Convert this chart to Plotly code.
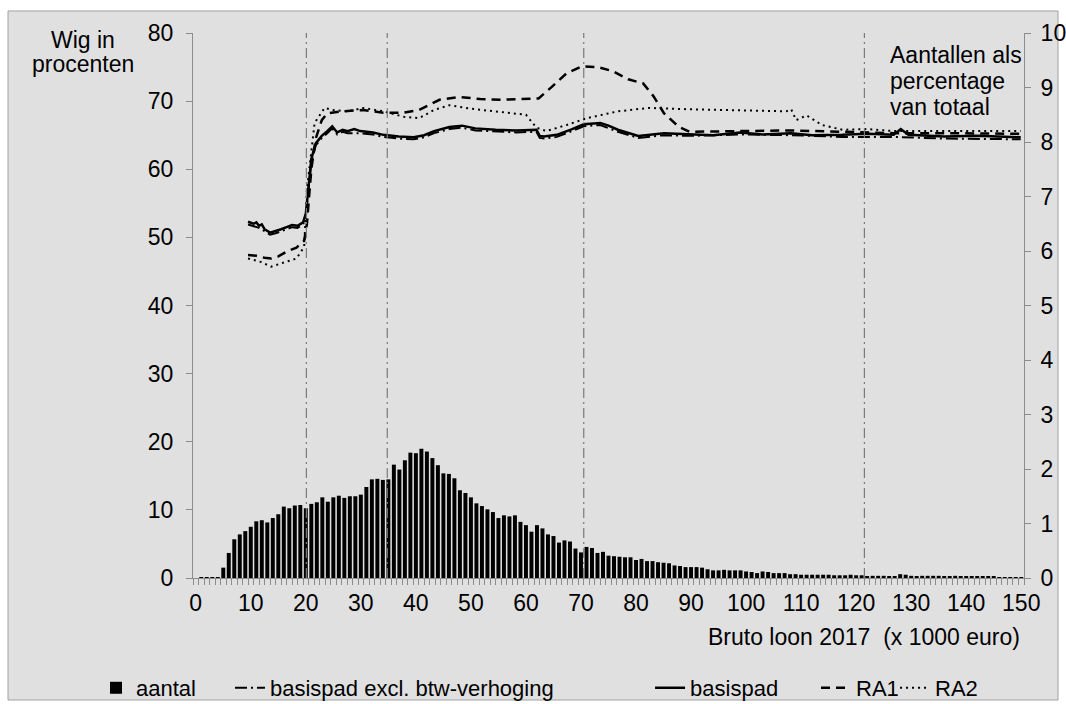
import plotly.graph_objects as go

# ---------------- data ----------------
categories = list(range(0, 151))
aantal = [
    0, 0.01, 0.01, 0.01, 0.01, 0.19, 0.46, 0.71, 0.80, 0.86,
    0.94, 1.04, 1.06, 1.02, 1.10, 1.17, 1.31, 1.28, 1.33, 1.34,
    1.28, 1.36, 1.39, 1.48, 1.40, 1.48, 1.51, 1.47, 1.50, 1.50,
    1.53, 1.67, 1.81, 1.82, 1.80, 1.81, 2.08, 1.99, 2.16, 2.30,
    2.29, 2.37, 2.32, 2.20, 2.07, 1.92, 1.91, 1.83, 1.61, 1.56,
    1.48, 1.37, 1.32, 1.26, 1.21, 1.10, 1.15, 1.13, 1.15, 1.03,
    0.97, 0.85, 0.97, 0.91, 0.80, 0.77, 0.65, 0.69, 0.67, 0.54,
    0.47, 0.57, 0.55, 0.46, 0.48, 0.41, 0.40, 0.39, 0.38, 0.38,
    0.33, 0.35, 0.31, 0.31, 0.29, 0.28, 0.27, 0.23, 0.22, 0.20,
    0.20, 0.20, 0.19, 0.16, 0.14, 0.14, 0.15, 0.14, 0.14, 0.14,
    0.12, 0.11, 0.09, 0.12, 0.11, 0.09, 0.09, 0.09, 0.07, 0.07,
    0.06, 0.06, 0.06, 0.06, 0.06, 0.06, 0.05, 0.05, 0.05, 0.06,
    0.05, 0.05, 0.03, 0.04, 0.04, 0.04, 0.03, 0.03, 0.07, 0.06,
    0.04, 0.03, 0.04, 0.04, 0.04, 0.04, 0.03, 0.03, 0.04, 0.02,
    0.03, 0.03, 0.03, 0.03, 0.03, 0.03, 0.01, 0.01, 0.01, 0.01,
    0.01,
]

basispad_x = [9.5, 10.5, 11, 11.5, 12, 12.5, 13.5, 14.5, 15.5, 16.5, 17.5, 18.5, 19.5, 20, 20.3,
              21, 21.8, 22.9, 23.9, 24.8, 25.7, 26.7, 27.6, 28.8, 29.9, 31, 32.2, 34.1, 36.9,
              39.6, 41.5, 43.3, 46.1, 48.4, 50.8, 54.5, 58.2, 61.9, 62.5, 63.3, 65.6, 68.4,
              70.5, 73.5, 75, 76.7, 80.4, 85.1, 89.7, 94, 98.9, 103, 108.2, 112, 117.5, 122,
              126.8, 128.1, 129.5, 136, 142, 149.9]
basispad_y = [52.3, 52.0, 52.2, 51.7, 51.9, 51.2, 50.7, 50.9, 51.2, 51.5, 51.8, 51.7, 52.2, 53.5, 56,
              61.5, 63.8, 64.9, 65.6, 66.3, 65.4, 65.8, 65.6, 65.9, 65.6, 65.5, 65.4, 65.05, 64.8,
              64.7, 65.0, 65.6, 66.2, 66.4, 66.0, 65.8, 65.7, 65.8, 64.9, 64.8, 65.05, 65.9,
              66.6, 66.8, 66.4, 65.8, 64.9, 65.3, 65.2, 65.0, 65.4, 65.1, 65.3, 65.0, 65.05, 65.2,
              65.05, 65.9, 65.05, 64.8, 64.9, 64.7]

excl_btw_x = [9.5, 10.5, 11.5, 12.5, 13.5, 14.5, 15.5, 16.5, 17.5, 18.5, 19.5, 20, 20.3,
              21, 21.8, 22.9, 23.9, 24.8, 25.7, 26.7, 27.6, 29.9, 32.2, 34.1, 36.9,
              39.6, 41.5, 43.3, 46.1, 48.4, 50.8, 54.5, 58.2, 61.9, 62.5, 63.3, 65.6, 68.4,
              70.5, 73.5, 76.7, 80.4, 85.1, 89.7, 98.9, 108.2, 117.5, 126.8, 136, 149.9]
excl_btw_y = [51.9, 51.7, 51.4, 50.9, 50.4, 50.6, 50.9, 51.2, 51.5, 51.4, 51.9, 53.0, 55.5,
              61.0, 63.5, 64.6, 65.3, 66.0, 65.1, 65.5, 65.3, 65.3, 65.1, 64.75, 64.5,
              64.4, 64.7, 65.3, 65.9, 66.1, 65.7, 65.5, 65.4, 65.5, 64.6, 64.5, 64.75, 65.6,
              66.3, 66.5, 65.5, 64.6, 65.0, 64.9, 65.1, 65.0, 64.75, 64.75, 64.5, 64.4]

ra1_x = [9.5, 11, 12.5, 13.7, 15, 16.5, 18.3, 19.7, 20.2, 21, 21.8, 22.9, 23.9, 26.7, 30.4,
         34.1, 37.8, 40.6, 44.3, 48, 51.7, 55.4, 59.1, 62.3, 64.7, 67.4, 70.2, 73, 75.8,
         78.6, 81.3, 83.2, 85.1, 87.8, 89.7, 98.9, 108.2, 117.5, 126.8, 136, 149.9]
ra1_y = [47.4, 47.3, 47.0, 46.9, 47.2, 47.9, 48.5, 49.5, 52, 60, 64.5, 67.2, 68.2, 68.5, 68.7,
         68.3, 68.3, 68.7, 70.2, 70.6, 70.3, 70.2, 70.3, 70.4, 72.1, 74.1, 75.1, 75.0, 74.4,
         73.2, 72.6, 70.7, 68.2, 66.2, 65.5, 65.6, 65.7, 65.5, 65.3, 65.3, 65.2]

ra2_x = [9.5, 11.8, 13.7, 15.5, 18.3, 19.7, 20.2, 21.6, 23.4, 24.8, 27.6, 30.4, 34.1, 37.8,
         40.6, 43.3, 46.1, 49.8, 54.5, 60, 61.9, 63.7, 67.4, 71.1, 76.7, 82.3, 89.7, 98.9,
         107.3, 108.2, 109.1, 111, 113.8, 117.5, 122.1, 126.8, 149.9]
ra2_y = [46.9, 46.4, 45.7, 46.2, 46.9, 48.6, 57, 66.8, 69.0, 68.7, 68.5, 69.0, 68.5, 67.7,
         67.5, 68.7, 69.4, 68.9, 68.5, 68.0, 66.1, 65.6, 66.5, 67.5, 68.5, 69.0, 68.8, 68.7,
         68.5, 68.8, 67.2, 67.9, 66.5, 65.8, 65.9, 65.6, 65.6]

vlines = [20.1, 34.8, 70.5, 121.5]
x_ticks = list(range(0, 151, 10))
left_ticks = list(range(0, 81, 10))
right_ticks = list(range(0, 11, 1))

# ---------------- figure ----------------
FONT = "Liberation Sans, Arial, sans-serif"
BG = "#e0e0e0"
AX = "#8c8c8c"
FS = 23

fig = go.Figure()

fig.add_trace(go.Bar(x=categories, y=aantal, name="aantal", marker_color="black",
                     marker_line_width=0, width=0.72, yaxis="y2", legend="legend"))
fig.add_trace(go.Scatter(x=excl_btw_x, y=excl_btw_y, mode="lines", name="basispad excl. btw-verhoging",
                         line=dict(color="black", width=2, dash="12px,4px,2px,4px"), legend="legend2"))
fig.add_trace(go.Scatter(x=basispad_x, y=basispad_y, mode="lines", name="basispad",
                         line=dict(color="black", width=2.5), legend="legend3"))
fig.add_trace(go.Scatter(x=ra1_x, y=ra1_y, mode="lines", name="RA1",
                         line=dict(color="black", width=2.5, dash="9px,6px"), legend="legend4"))
fig.add_trace(go.Scatter(x=ra2_x, y=ra2_y, mode="lines", name="RA2",
                         line=dict(color="black", width=2, dash="2px,4px"), legend="legend5"))

# outer chart border / background
fig.add_shape(type="rect", xref="paper", yref="paper", x0=-0.2226, x1=1.0409, y0=-0.2239, y1=1.0404,
              fillcolor=BG, line=dict(color="#a0a0a0", width=1), layer="below")

for v in vlines:
    fig.add_shape(type="line", xref="x", yref="y", x0=v, x1=v, y0=0, y1=80,
                  line=dict(color="#7a7a7a", width=1.2, dash="10px,4px,2px,4px"))

def leg(x):
    return dict(orientation="h", x=x, xanchor="left", y=-0.2018, yanchor="middle",
                font=dict(size=22, family=FONT), bgcolor="rgba(0,0,0,0)", borderwidth=0)

fig.update_layout(
    width=1066, height=704,
    margin=dict(l=193, r=42, t=33, b=126, autoexpand=False),
    paper_bgcolor="white", plot_bgcolor="rgba(0,0,0,0)",
    font=dict(family=FONT, size=FS, color="black"),
    showlegend=True,
    legend=leg(-0.1167),
    legend2=leg(0.0445),
    legend3=leg(0.55),
    legend4=leg(0.7497),
    legend5=leg(0.8448),
    xaxis=dict(range=[-0.5, 150.5], tickvals=x_ticks, ticktext=[str(t) for t in x_ticks],
               ticks="", showgrid=False, zeroline=False, showline=True, linecolor=AX, linewidth=1,
               tickfont=dict(size=FS), ticklabelstandoff=4, automargin=False,
               minor=dict(ticks="outside", tick0=-0.5, dtick=1, ticklen=6, tickcolor=AX, showgrid=False)),
    yaxis=dict(range=[0, 80], tickvals=left_ticks, showgrid=False, zeroline=False, showline=True,
               linecolor=AX, linewidth=1, ticks="outside", ticklen=6, tickcolor=AX,
               tickfont=dict(size=FS), ticklabelstandoff=8, automargin=False),
    yaxis2=dict(range=[0, 10], tickvals=right_ticks, overlaying="y", side="right", showgrid=False,
                zeroline=False, showline=True, linecolor=AX, linewidth=1, ticks="outside",
                ticklen=6, tickcolor=AX, tickfont=dict(size=FS), ticklabelstandoff=5, automargin=False),
)

left_title = [("Wig in", 0.9872), ("procenten", 0.9431)]
for txt, yy in left_title:
    fig.add_annotation(xref="paper", yref="paper", x=-0.1324, y=yy, xanchor="center", yanchor="middle",
                       text=txt, showarrow=False, font=dict(size=FS, family=FONT))
right_title = [("Aantallen als", 0.9596), ("percentage", 0.9119), ("van totaal", 0.8642)]
for txt, yy in right_title:
    fig.add_annotation(xref="paper", yref="paper", x=0.8363, y=yy, xanchor="left", yanchor="middle",
                       text=txt, showarrow=False, font=dict(size=FS, family=FONT))
fig.add_annotation(xref="paper", yref="paper", x=0.998, y=-0.1083, xanchor="right", yanchor="middle",
                   text="Bruto loon 2017\u00a0\u00a0(x 1000 euro)", showarrow=False,
                   font=dict(size=FS, family=FONT))

fig.write_html("out.html",
               config={"displayModeBar": False},
               post_script="document.body.style.margin='0px';"
                           "document.documentElement.style.overflow='hidden';"
                           "document.body.style.overflow='hidden';")
